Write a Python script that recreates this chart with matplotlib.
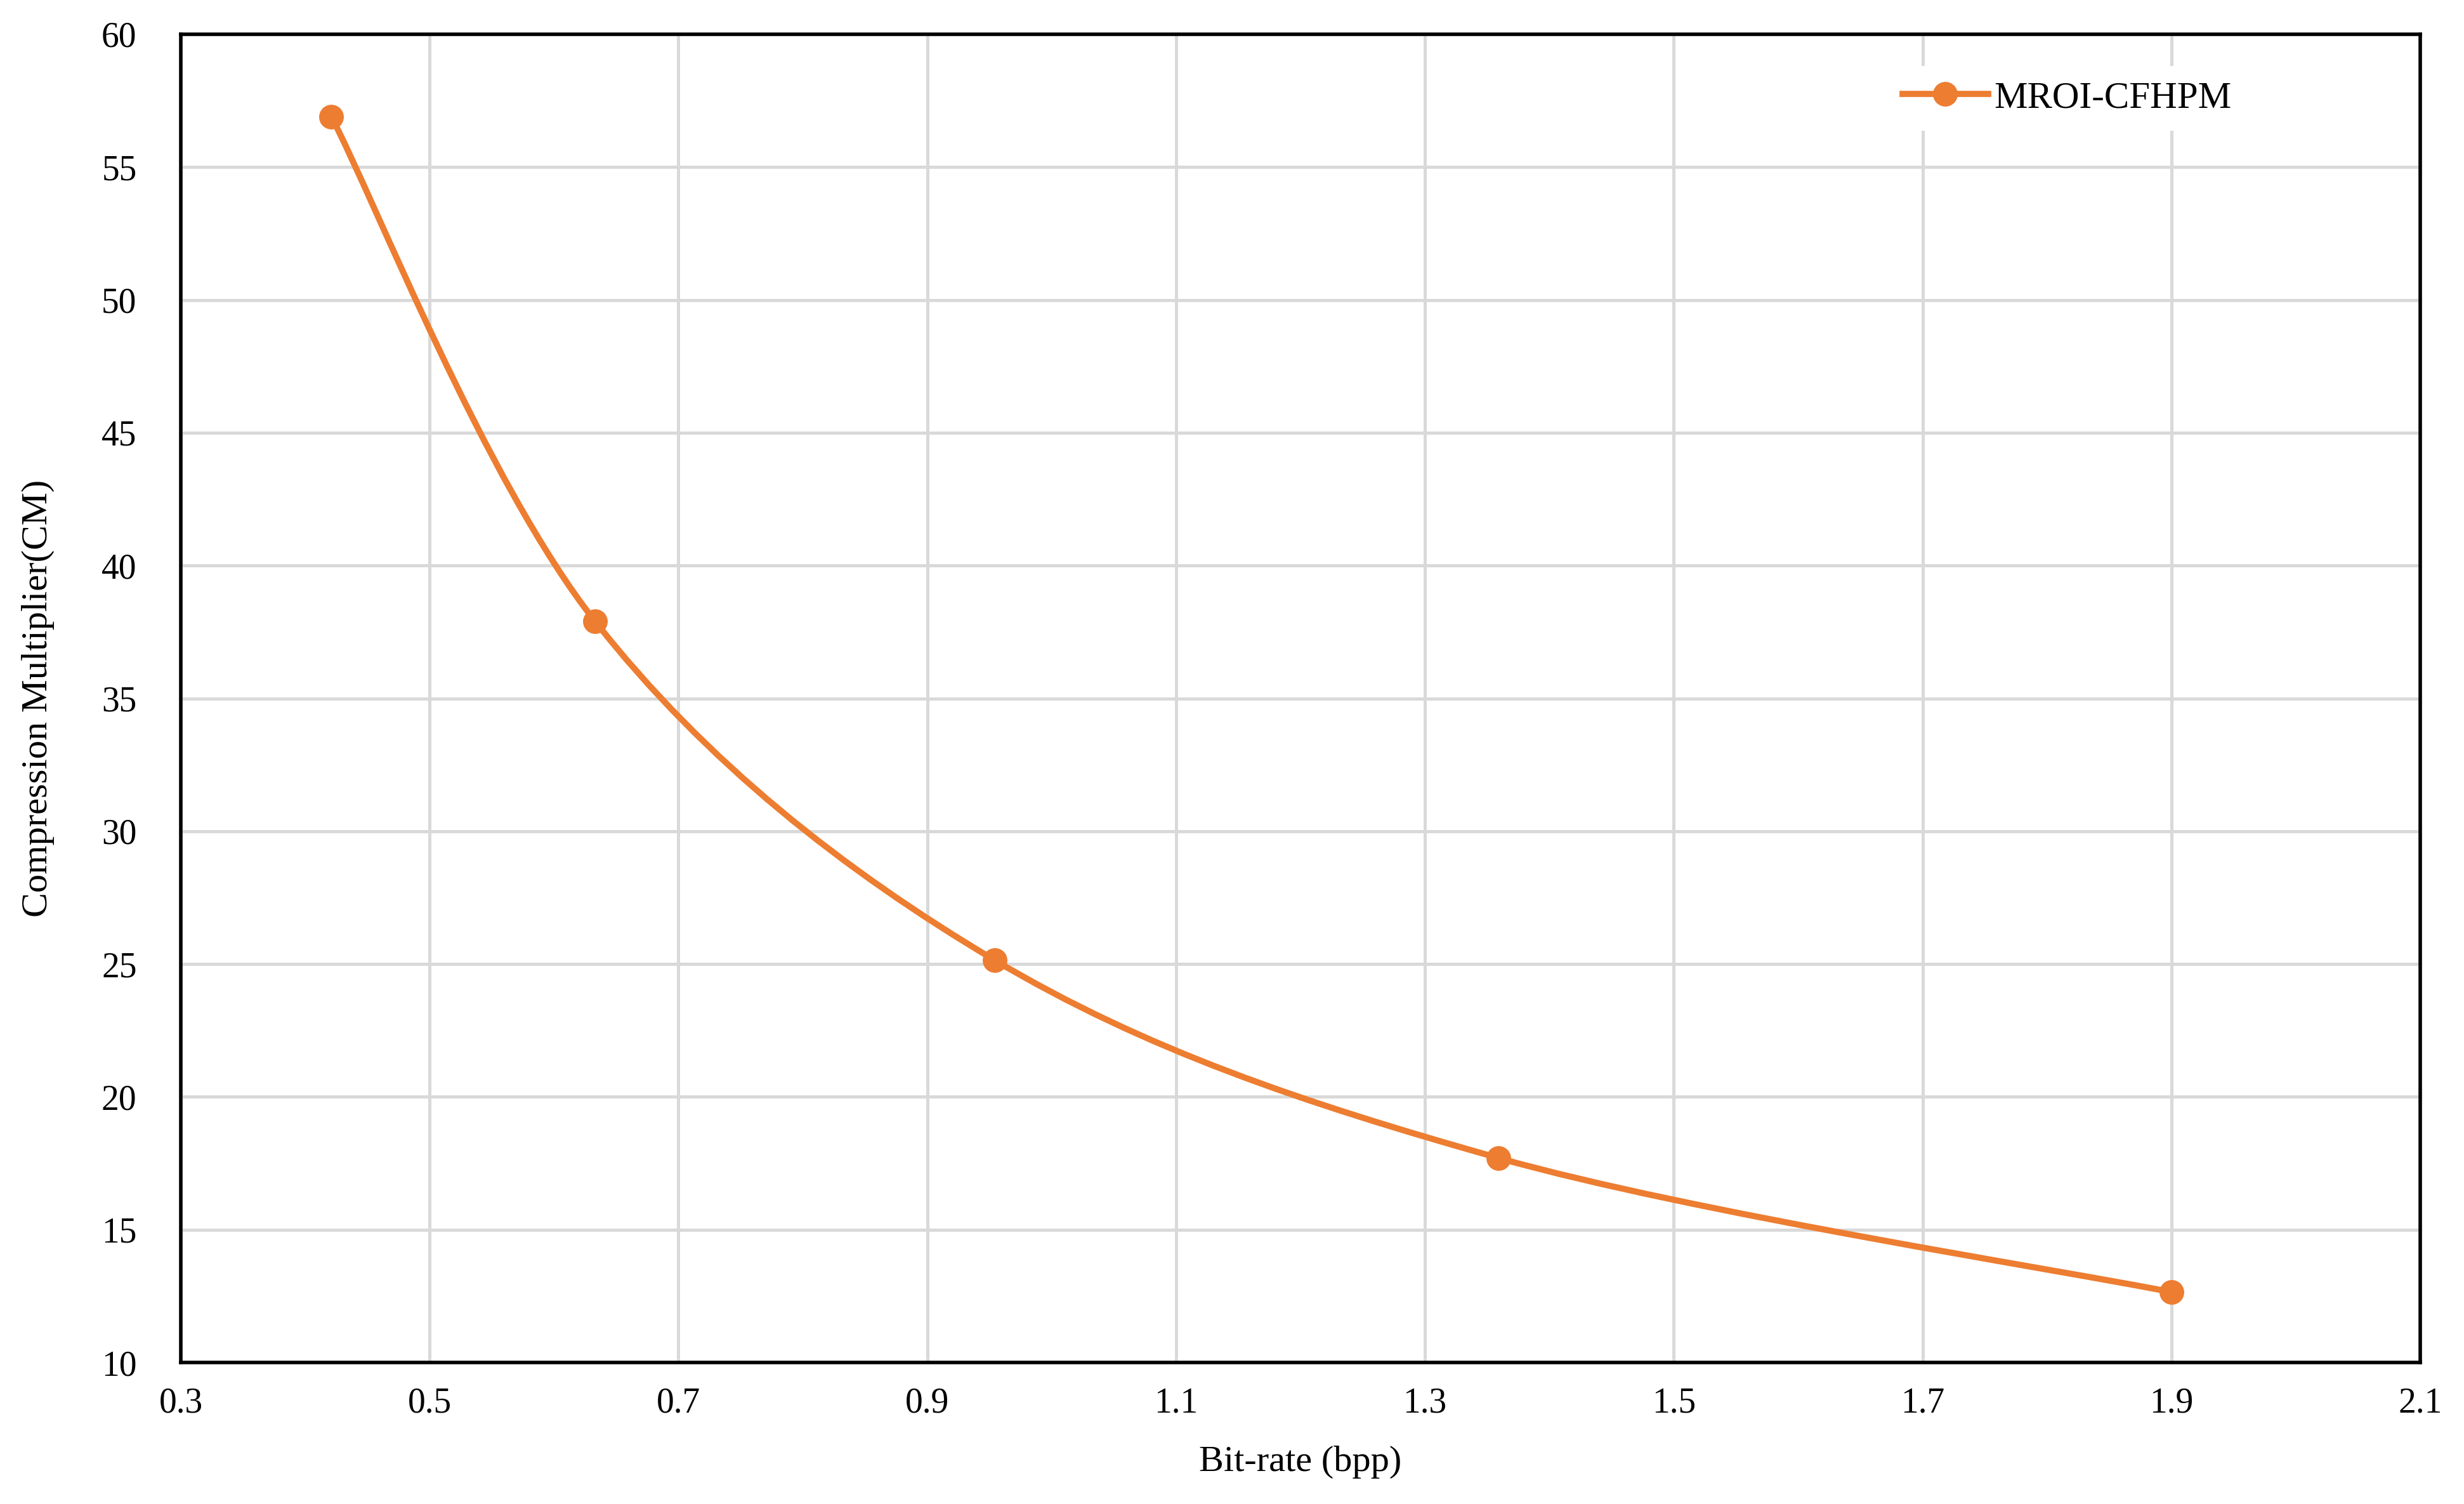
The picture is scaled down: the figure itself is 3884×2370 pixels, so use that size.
import numpy as np
import matplotlib
matplotlib.use("Agg")
import matplotlib.pyplot as plt
from matplotlib.path import Path
from matplotlib.patches import PathPatch
from matplotlib.lines import Line2D

# ---- data ----
bitrate = [0.421, 0.633, 0.954, 1.359, 1.900]
cm = [56.9, 37.9, 25.15, 17.7, 12.65]
series_name = "MROI-CFHPM"
x_ticks = [0.3, 0.5, 0.7, 0.9, 1.1, 1.3, 1.5, 1.7, 1.9, 2.1]
x_tick_labels = ["0.3", "0.5", "0.7", "0.9", "1.1", "1.3", "1.5", "1.7", "1.9", "2.1"]
y_ticks = [10, 15, 20, 25, 30, 35, 40, 45, 50, 55, 60]
y_tick_labels = [str(v) for v in y_ticks]

ORANGE = "#ED7D31"
GRID = "#D9D9D9"

plt.rcParams['font.family'] = ['Liberation Serif', 'DejaVu Serif']

W, H = 3884, 2370
fig = plt.figure(figsize=(W / 100, H / 100), dpi=100)
ax = fig.add_axes([285 / W, 1 - 2147 / H, (3815 - 285) / W, (2147 - 54) / H])

ax.set_xlim(0.3, 2.1)
ax.set_ylim(10, 60)
ax.set_xticks(x_ticks)
ax.set_xticklabels(x_tick_labels)
ax.set_yticks(y_ticks)
ax.set_yticklabels(y_tick_labels)
ax.tick_params(axis='x', length=0, pad=28, labelsize=40)
ax.tick_params(axis='y', length=0, pad=50, labelsize=40)
ax.grid(True, color=GRID, linewidth=3.6)
ax.set_axisbelow(True)
for s in ax.spines.values():
    s.set_color("black")
    s.set_linewidth(4)

# Excel-style smoothed line (cubic Bezier, Catmull-Rom control points)
P = np.column_stack([bitrate, cm])
n = len(P)
verts = [tuple(P[0])]
codes = [Path.MOVETO]
for i in range(n - 1):
    p0 = P[i - 1] if i > 0 else P[i]
    p1 = P[i]
    p2 = P[i + 1]
    p3 = P[i + 2] if i + 2 < n else P[i + 1]
    c1 = p1 + (p2 - p0) / 6.0
    c2 = p2 - (p3 - p1) / 6.0
    verts += [tuple(c1), tuple(c2), tuple(p2)]
    codes += [Path.CURVE4, Path.CURVE4, Path.CURVE4]
patch = PathPatch(Path(verts, codes), facecolor='none', edgecolor=ORANGE,
                  linewidth=7, capstyle='round', joinstyle='round', zorder=3)
ax.add_patch(patch)
ax.plot(bitrate, cm, linestyle='none', marker='o', markersize=27,
        color=ORANGE, zorder=4)

handle = Line2D([0], [0], color=ORANGE, linewidth=7, marker='o', markersize=27)
leg = ax.legend([handle], [series_name], loc='center left',
                bbox_to_anchor=(2975 / W, 1 - 155 / H), bbox_transform=fig.transFigure,
                frameon=True, fancybox=False, framealpha=1, facecolor='white',
                edgecolor='none', borderpad=0.4, handlelength=2.3,
                handletextpad=0.15, fontsize=42.5, numpoints=1, borderaxespad=0)

ax.set_xlabel("Bit-rate (bpp)", fontsize=42)
ax.xaxis.set_label_coords(0.5, (2147 - 2304) / 2093)
ax.xaxis.label.set_va('center')
ax.set_ylabel("Compression Multiplier(CM)", fontsize=42)
ax.yaxis.set_label_coords((60 - 285) / 3530, 0.5)
ax.yaxis.label.set_va('center')

fig.savefig("out.png", dpi=100, facecolor='white')
